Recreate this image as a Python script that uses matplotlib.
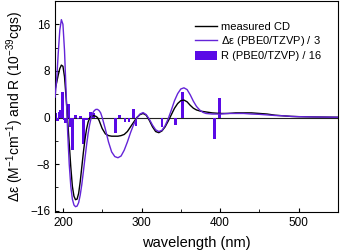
import matplotlib
matplotlib.use("Agg")
import matplotlib.pyplot as plt
from matplotlib.ticker import MultipleLocator

plt.rcParams["font.family"] = ["Liberation Sans", "DejaVu Sans"]
plt.rcParams["mathtext.default"] = "regular"

# measured CD spectrum
cd_wl = [190, 192, 194, 196, 198, 200, 202, 204, 206, 208, 210, 212, 214, 216, 218,
         220, 222, 224, 226, 228, 230, 232, 234, 236, 238, 240, 242, 244, 246, 248,
         250, 254, 258, 262, 266, 270, 274, 278, 282, 286, 290, 294, 298, 302, 306,
         310, 314, 318, 322, 326, 330, 334, 338, 342, 346, 350, 354, 358, 362, 366,
         370, 375, 380, 390, 400, 410, 420, 430, 440, 450, 460, 470, 480, 490, 500,
         520, 550]
cd_val = [4.8, 6.0, 7.3, 8.4, 9.0, 8.8, 7.0, 3.5, -0.5, -4.5, -8.5, -11.8, -13.5, -14.1, -14.0,
          -13.0, -11.0, -8.5, -6.0, -3.8, -2.0, -0.8, -0.1, 0.2, 0.3, 0.3, 0.2, 0.0, -0.5, -1.2,
          -1.9, -2.8, -3.1, -3.2, -3.2, -3.2, -3.1, -2.9, -2.4, -1.6, -0.8, 0.0, 0.5, 0.7, 0.4,
          -0.5, -1.6, -2.4, -2.6, -2.3, -1.6, -0.6, 0.5, 1.6, 2.4, 2.9, 3.0, 2.7, 2.1, 1.6,
          1.3, 1.1, 1.0, 0.8, 0.7, 0.7, 0.8, 0.8, 0.8, 0.7, 0.6, 0.4, 0.3, 0.2, 0.15,
          0.1, 0.05]

# calculated delta epsilon / 3
calc_wl = [190, 192, 194, 196, 198, 200, 202, 204, 206, 208, 210, 212, 214, 216, 218,
           220, 222, 224, 226, 228, 230, 232, 234, 236, 238, 240, 242, 244, 246, 248,
           250, 254, 258, 262, 266, 270, 274, 278, 282, 286, 290, 294, 298, 302, 306,
           310, 314, 318, 322, 326, 330, 334, 338, 342, 346, 350, 354, 358, 362, 366,
           370, 374, 378, 382, 390, 400, 410, 420, 430, 440, 450, 460, 470, 480, 490,
           500, 520, 550]
calc_val = [3.5, 6.5, 11.0, 15.0, 16.8, 16.0, 11.5, 4.5, -2.5, -8.0, -11.8, -14.0, -15.0, -15.3, -15.2,
            -14.6, -13.3, -11.5, -9.3, -7.0, -4.8, -2.8, -1.2, 0.0, 0.8, 1.2, 1.4, 1.4, 1.2, 0.8,
            0.0, -2.0, -4.2, -5.9, -6.7, -6.9, -6.6, -5.6, -4.2, -2.6, -1.2, -0.1, 0.6, 0.85, 0.5,
            -0.3, -1.3, -2.1, -2.4, -2.2, -1.4, -0.2, 1.3, 2.9, 4.1, 4.9, 5.1, 4.8, 3.9, 2.8,
            1.9, 1.3, 0.9, 0.7, 0.6, 0.6, 0.7, 0.7, 0.7, 0.6, 0.55, 0.45, 0.35, 0.3, 0.2,
            0.15, 0.1, 0.05]

# rotatory strengths / 16
rs_wl = [191, 193, 195, 197, 199.5, 201.5, 203.5, 207, 209.5, 212.5, 216, 219, 222, 226,
         230, 235, 239, 267, 272, 279, 284, 290, 293, 326, 343, 352.5, 393, 399]
rs_val = [0.7, -0.6, 1.0, 1.3, 4.3, -0.5, -1.0, 2.4, -1.6, -5.5, 0.4, -0.3, 0.3, -4.5,
          -0.4, 0.9, 0.7, -2.6, 0.4, -0.8, -0.8, 1.4, -1.5, -1.7, -1.3, 4.3, -3.7, 3.3]

purple_line = "#6424d8"
purple_bar = "#5a0ae6"

fig = plt.figure(figsize=(3.4, 2.52), dpi=100)
ax = fig.add_axes([0.162, 0.159, 0.832, 0.837])

ax.axhline(0, color="#222222", lw=0.8, zorder=1)
bars = ax.bar(rs_wl, rs_val, width=3.4, color=purple_bar, edgecolor="none", zorder=2)
cd_line, = ax.plot(cd_wl, cd_val, color="black", lw=1.0, zorder=3)
calc_line, = ax.plot(calc_wl, calc_val, color=purple_line, lw=1.0, zorder=3)

ax.set_xlim(190, 550)
ax.set_ylim(-16.2, 20)
ax.set_xticks([200, 300, 400, 500])
ax.set_yticks([-16, -8, 0, 8, 16])
ax.xaxis.set_minor_locator(MultipleLocator(50))
ax.yaxis.set_minor_locator(MultipleLocator(4))
ax.tick_params(which="both", direction="in", labelsize=8.5)
ax.tick_params(which="major", length=3)
ax.tick_params(which="minor", length=2)

ax.set_xlabel("wavelength (nm)", fontsize=10.5, labelpad=5)
ax.set_ylabel(r"$\Delta\varepsilon$ (M$^{-1}$cm$^{-1}$) and R (10$^{-39}$cgs)",
              fontsize=10, labelpad=3)

ax.legend([cd_line, calc_line, bars],
          ["measured CD", r"$\Delta\varepsilon$ (PBE0/TZVP) / 3", "R (PBE0/TZVP) / 16"],
          loc="upper left", bbox_to_anchor=(0.46, 0.95), frameon=False, fontsize=8,
          handlelength=2.0, handleheight=0.8, labelspacing=0.25, handletextpad=0.3)

fig.savefig("out.png", dpi=100)
